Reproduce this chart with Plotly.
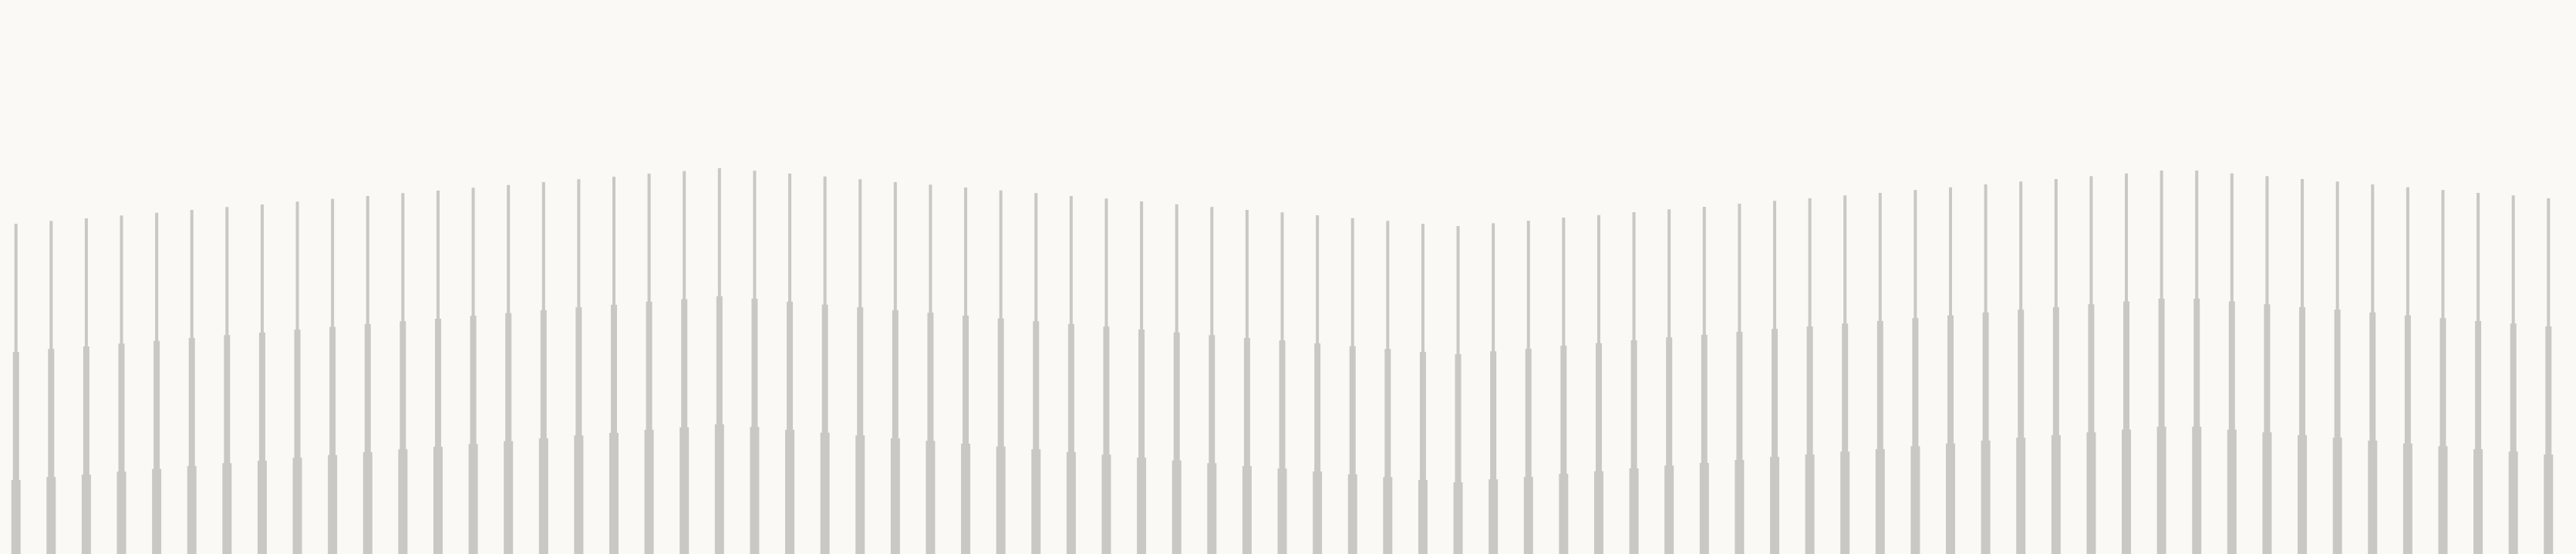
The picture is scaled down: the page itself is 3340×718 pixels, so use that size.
"""Three-tier bar skyline: thin stem, middle shaft and wide base per column."""

import plotly.graph_objects as go

# one column per position
positions = list(range(73))

# height of the thin stem (tallest layer)
stem_height = [
    428, 431.7, 435, 438.7, 442.3, 446, 449.7, 453, 456.7, 460.3,
    464, 467.7, 471, 474.7, 478.3, 482, 485.7, 489, 493, 496.3,
    500, 496.7, 493, 489.3, 485.7, 482, 478.7, 475, 471.3, 467.7,
    464, 460.7, 457, 453.3, 449.7, 446, 442.7, 439, 435.3, 431.7,
    428, 425, 428.7, 432, 436, 439.3, 443, 446.7, 450, 454,
    457.7, 461, 464.7, 468, 471.7, 475.3, 479, 482.7, 486, 489.7,
    493.3, 497, 497, 493.3, 489.7, 486, 482.7, 479, 475.3, 471.7,
    468, 464.7, 461,
]

# height of the middle shaft
shaft_height = [
    262, 265.7, 269, 272.7, 276.3, 280, 283.7, 287, 290.7, 294.3,
    298, 301.7, 305, 308.7, 312.3, 316, 319.7, 323, 327, 330.3,
    334, 330.7, 327, 323.3, 319.7, 316, 312.7, 309, 305.3, 301.7,
    298, 294.7, 291, 287.3, 283.7, 280, 276.7, 273, 269.3, 265.7,
    262, 259, 262.7, 266, 270, 273.3, 277, 280.7, 284, 288,
    291.7, 295, 298.7, 302, 305.7, 309.3, 313, 316.7, 320, 323.7,
    327.3, 331, 331, 327.3, 323.7, 320, 316.7, 313, 309.3, 305.7,
    302, 298.7, 295,
]

# height of the wide base
base_height = [
    96, 99.7, 103, 106.7, 110.3, 114, 117.7, 121, 124.7, 128.3,
    132, 135.7, 139, 142.7, 146.3, 150, 153.7, 157, 161, 164.3,
    168, 164.7, 161, 157.3, 153.7, 150, 146.7, 143, 139.3, 135.7,
    132, 128.7, 125, 121.3, 117.7, 114, 110.7, 107, 103.3, 99.7,
    96, 93, 96.7, 100, 104, 107.3, 111, 114.7, 118, 122,
    125.7, 129, 132.7, 136, 139.7, 143.3, 147, 150.7, 154, 157.7,
    161.3, 165, 165, 161.3, 157.7, 154, 150.7, 147, 143.3, 139.7,
    136, 132.7, 129,
]

BAR = "#c9c8c4"
BG = "#faf9f5"

fig = go.Figure()

# widest layer last so it sits on top; all share the same colour anyway
for vals, w in [(stem_height, 0.088), (shaft_height, 0.175), (base_height, 0.263)]:
    fig.add_trace(go.Bar(
        x=positions,
        y=vals,
        width=w,
        marker=dict(color=BAR, line=dict(width=0)),
        hoverinfo="skip",
        showlegend=False,
    ))

fig.update_layout(
    barmode="overlay",
    width=3340,
    height=718,
    margin=dict(l=0, r=0, t=0, b=0),
    paper_bgcolor=BG,
    plot_bgcolor=BG,
)

fig.update_xaxes(visible=False, range=[-0.454, 72.783])
fig.update_yaxes(visible=False, range=[0, 718])

# drop the browser's default body margin so the chart fills the window
fig.write_html(
    "out.html",
    config={"displayModeBar": False},
    post_script="document.body.style.margin='0';document.body.style.background='" + BG + "';",
)
